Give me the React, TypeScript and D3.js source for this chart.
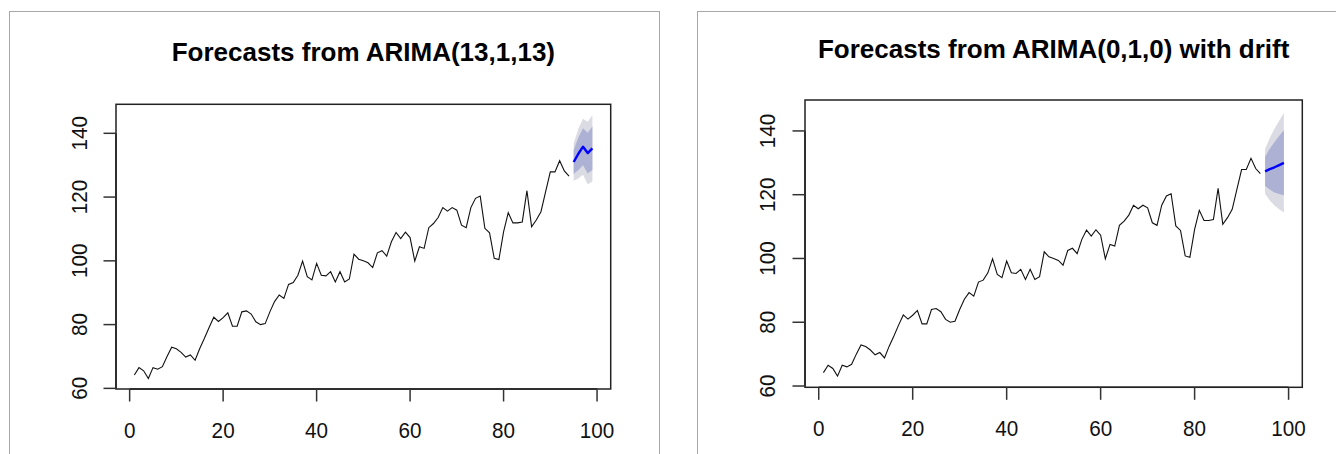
import React from "react";
import * as d3 from "d3";

// Observed series (t = 1..94)
const observed: number[] = [
  64.2, 66.5, 65.5, 63.1, 66.5, 66.0, 66.8, 70.0, 72.9, 72.4,
  71.3, 69.8, 70.5, 68.8, 72.5, 75.7, 79.1, 82.3, 81.0, 82.2,
  83.7, 79.5, 79.5, 84.0, 84.3, 83.3, 80.9, 80.0, 80.3, 84.0,
  87.2, 89.3, 88.2, 92.6, 93.2, 95.5, 99.9, 95.0, 94.0, 99.2,
  95.5, 95.3, 96.6, 93.4, 96.6, 93.4, 94.3, 102.1, 100.5, 100.0,
  99.4, 97.9, 102.5, 103.2, 101.5, 106.0, 108.9, 107.0, 109.0, 107.3,
  99.9, 104.4, 103.9, 110.4, 111.7, 113.6, 116.7, 115.6, 116.7, 115.9,
  111.2, 110.4, 116.7, 119.6, 120.3, 110.2, 108.8, 100.8, 100.4, 109.1,
  115.1, 111.9, 111.9, 112.2, 122.0, 110.7, 112.8, 115.4, 121.7, 127.9,
  127.9, 131.4, 128.2, 126.6,
];

// Forecast horizon t = 95..99
const fcTime: number[] = [95, 96, 97, 98, 99];

// ARIMA(13,1,13)
const arimaMean: number[] = [131.0, 133.6, 135.8, 133.8, 135.3];
const arimaLo80: number[] = [127.2, 128.5, 130.0, 127.4, 128.5];
const arimaHi80: number[] = [134.8, 138.7, 141.6, 140.2, 142.1];
const arimaLo95: number[] = [125.1, 125.8, 127.0, 124.0, 124.9];
const arimaHi95: number[] = [136.9, 141.4, 144.6, 143.6, 145.7];

// ARIMA(0,1,0) with drift
const driftMean: number[] = [127.3, 128.0, 128.6, 129.3, 130.0];
const driftLo80: number[] = [122.7, 121.6, 120.7, 120.2, 119.8];
const driftHi80: number[] = [131.9, 134.4, 136.5, 138.4, 140.2];
const driftLo95: number[] = [120.3, 118.2, 116.6, 115.4, 114.4];
const driftHi95: number[] = [134.3, 137.8, 140.7, 143.2, 145.6];

const xTicks: number[] = [0, 20, 40, 60, 80, 100];
const yTicks: number[] = [60, 80, 100, 120, 140];

const FONT = "'Liberation Sans', Arial, Helvetica, sans-serif";

type PanelProps = {
  title: string;
  x0: number; x1: number; y0: number; y1: number;
  xDomain: [number, number];
  yDomain: [number, number];
  titleY: number;
  xLabelY: number;
  yLabelX: number;
  mean: number[]; lo80: number[]; hi80: number[]; lo95: number[]; hi95: number[];
};

function Panel(p: PanelProps) {
  const x = d3.scaleLinear().domain(p.xDomain).range([p.x0, p.x1]);
  const y = d3.scaleLinear().domain(p.yDomain).range([p.y1, p.y0]);
  const obsLine = d3.line<number>().x((_, i) => x(i + 1)).y((d) => y(d))(observed) || "";
  const idx = fcTime.map((_, i) => i);
  const band = (lo: number[], hi: number[]) =>
    d3.area<number>().x((i) => x(fcTime[i])).y0((i) => y(lo[i])).y1((i) => y(hi[i]))(idx) || "";
  const fcLine = d3.line<number>().x((i) => x(fcTime[i])).y((i) => y(p.mean[i]))(idx) || "";
  const tickLen = 12.5;
  return (
    <g>
      <path d={band(p.lo95, p.hi95)} fill="#DBDBE3" stroke="none" />
      <path d={band(p.lo80, p.hi80)} fill="#ADB2D5" stroke="none" />
      <path d={obsLine} fill="none" stroke="#111" strokeWidth={1.1} />
      <path d={fcLine} fill="none" stroke="#0000FF" strokeWidth={2.4} strokeLinejoin="round" />
      <rect x={p.x0} y={p.y0} width={p.x1 - p.x0} height={p.y1 - p.y0} fill="none" stroke="#222" strokeWidth={1.5} />
      {/* x axis */}
      <line x1={x(xTicks[0])} x2={x(xTicks[xTicks.length - 1])} y1={p.y1} y2={p.y1} stroke="#222" strokeWidth={1.5} />
      {xTicks.map((t) => (
        <g key={"x" + t}>
          <line x1={x(t)} x2={x(t)} y1={p.y1} y2={p.y1 + tickLen} stroke="#333" strokeWidth={1.5} />
          <text
            transform={`translate(${x(t)},${p.xLabelY}) scale(0.92,1)`}
            textAnchor="middle" fontFamily={FONT} fontSize={22.5} fill="#111"
          >{t}</text>
        </g>
      ))}
      {/* y axis */}
      <line x1={p.x0} x2={p.x0} y1={y(yTicks[0])} y2={y(yTicks[yTicks.length - 1])} stroke="#222" strokeWidth={1.5} />
      {yTicks.map((t) => (
        <g key={"y" + t}>
          <line x1={p.x0 - tickLen} x2={p.x0} y1={y(t)} y2={y(t)} stroke="#333" strokeWidth={1.5} />
          <text
            transform={`translate(${p.yLabelX},${y(t)}) rotate(-90) scale(0.92,1)`}
            textAnchor="middle" fontFamily={FONT} fontSize={22.5} fill="#111"
          >{t}</text>
        </g>
      ))}
      <text x={(p.x0 + p.x1) / 2} y={p.titleY} textAnchor="middle" fontFamily={FONT} fontWeight="bold" fontSize={26} fill="#000">
        {p.title}
      </text>
    </g>
  );
}

export default function App() {
  return (
    <svg width={1336} height={454} style={{ position: "absolute", left: 0, top: 0, background: "#fff" }}>
      <rect x={0} y={0} width={1336} height={454} fill="#fff" />
      <rect x={9.5} y={11.5} width={650} height={520} fill="#fff" stroke="#A8A8A8" strokeWidth={1} />
      <rect x={697.5} y={11.5} width={700} height={520} fill="#fff" stroke="#A8A8A8" strokeWidth={1} />
      <Panel
        title="Forecasts from ARIMA(13,1,13)"
        x0={116} x1={610.7} y0={104.3} y1={389}
        xDomain={[-2.92, 102.92]} yDomain={[59.8, 149.1]}
        titleY={61} xLabelY={437.5} yLabelX={86.5}
        mean={arimaMean} lo80={arimaLo80} hi80={arimaHi80} lo95={arimaLo95} hi95={arimaHi95}
      />
      <Panel
        title="Forecasts from ARIMA(0,1,0) with drift"
        x0={805} x1={1302.3} y0={100} y1={387.3}
        xDomain={[-2.92, 102.92]} yDomain={[59.6, 149.7]}
        titleY={57.5} xLabelY={436} yLabelX={775}
        mean={driftMean} lo80={driftLo80} hi80={driftHi80} lo95={driftLo95} hi95={driftHi95}
      />
    </svg>
  );
}
